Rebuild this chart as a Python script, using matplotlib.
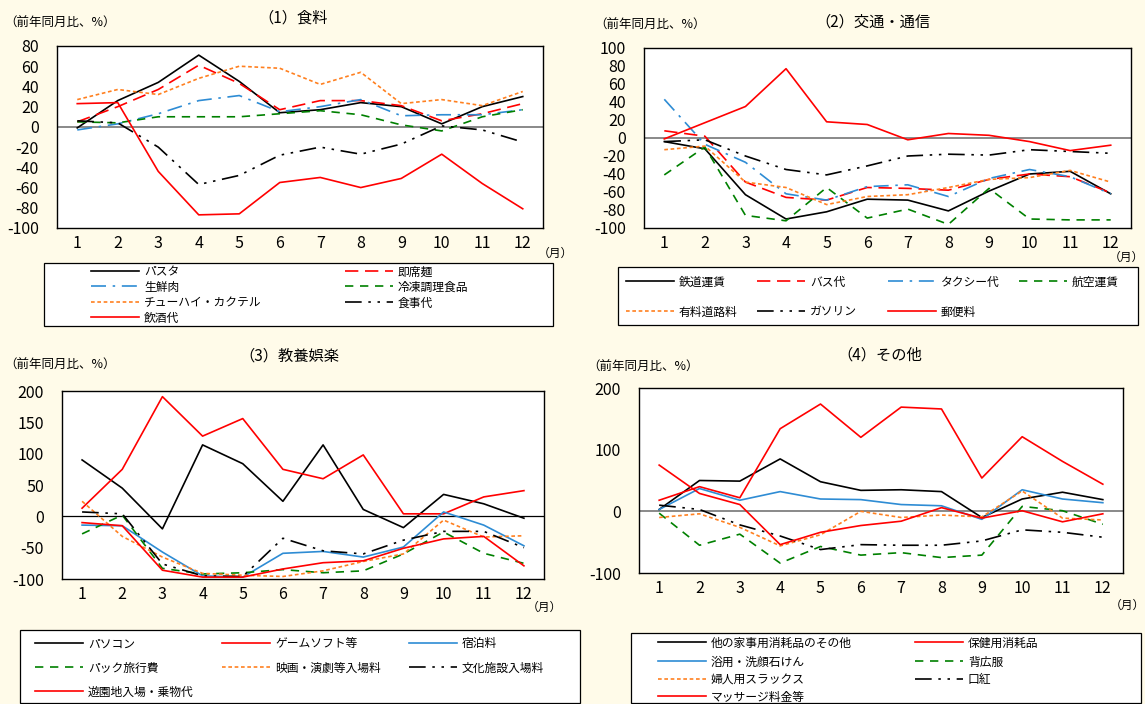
"""2020年 品目別支出の前年同月比 (4 パネル折れ線)"""

import matplotlib
matplotlib.use('Agg')

import matplotlib.pyplot as plt
from matplotlib.patches import Rectangle

plt.rcParams['font.family'] = ['Noto Sans CJK JP', 'DejaVu Sans']
plt.rcParams['axes.unicode_minus'] = False

W, H = 1145, 704
BG = '#FFFBE9'

MONTHS = list(range(1, 13))

# ── (1) 食料 ──────────────────────────────────────────────
food_labels = ['パスタ', '即席麺', '生鮮肉', '冷凍調理食品',
               'チューハイ・カクテル', '食事代', '飲酒代']
pasta = [-1, 26, 44, 71, 45, 14, 17, 24, 20, 3, 20, 30]
instant_noodle = [5, 20, 37, 61, 43, 17, 26, 26, 21, 6, 13, 23]
fresh_meat = [-3, 3, 13, 26, 31, 15, 20, 27, 11, 12, 12, 17]
frozen_food = [5, 4, 10, 10, 10, 13, 16, 12, 2, -4, 10, 17]
chuhai = [27, 37, 32, 48, 60, 58, 42, 54, 23, 27, 21, 35]
eating_out = [6, 4, -20, -57, -48, -28, -20, -27, -17, 1, -3, -15]
drinking = [23, 24, -44, -87, -86, -55, -50, -60, -51, -27, -56, -81]

# ── (2) 交通・通信 ────────────────────────────────────────
trans_labels = ['鉄道運賃', 'バス代', 'タクシー代', '航空運賃',
                '有料道路料', 'ガソリン', '郵便料']
rail = [-4, -12, -63, -90, -82, -68, -69, -81, -59, -40, -37, -62]
bus = [8, 2, -49, -66, -69, -55, -56, -58, -46, -40, -43, -61]
taxi = [43, -7, -27, -62, -69, -54, -52, -65, -45, -35, -43, -62]
airfare = [-41, -10, -86, -92, -55, -89, -79, -96, -56, -90, -91, -91]
toll_road = [-13, -9, -49, -55, -74, -65, -63, -55, -46, -44, -36, -49]
gasoline = [-4, -2, -20, -35, -41, -31, -20, -18, -19, -13, -15, -17]
postage = [-1, 17, 35, 77, 18, 15, -2, 5, 3, -4, -14, -8]

# ── (3) 教養娯楽 ──────────────────────────────────────────
culture_labels = ['パソコン', 'ゲームソフト等', '宿泊料', 'パック旅行費',
                  '映画・演劇等入場料', '文化施設入場料', '遊園地入場・乗物代']
pc = [90, 45, -20, 114, 84, 24, 114, 11, -18, 35, 20, -3]
game_soft = [13, 75, 191, 128, 156, 75, 60, 98, 4, 4, 31, 41]
hotel = [-14, -15, -57, -95, -97, -59, -56, -65, -49, 7, -14, -47]
package_tour = [-28, 2, -83, -92, -90, -85, -90, -87, -60, -25, -59, -75]
movie_theater = [24, -32, -65, -91, -94, -96, -87, -72, -60, -6, -33, -31]
culture_facility = [7, 4, -76, -95, -96, -35, -55, -60, -38, -24, -24, -50]
amusement_park = [-10, -15, -86, -97, -97, -84, -74, -71, -51, -36, -32, -79]

# ── (4) その他 ────────────────────────────────────────────
other_labels = ['他の家事用消耗品のその他', '保健用消耗品', '浴用・洗顔石けん', '背広服',
                '婦人用スラックス', '口紅', 'マッサージ料金等']
household_other = [3, 50, 49, 85, 48, 34, 35, 32, -10, 20, 31, 19]
health_supplies = [18, 40, 22, 134, 174, 120, 169, 166, 54, 121, 81, 44]
soap = [3, 37, 18, 32, 20, 19, 11, 9, -13, 35, 20, 14]
suit = [-3, -55, -37, -84, -57, -71, -67, -75, -71, 8, 1, -21]
slacks = [-10, -4, -26, -56, -38, 0, -10, -6, -9, 33, -11, -14]
lipstick = [10, 3, -22, -40, -62, -54, -55, -55, -48, -30, -34, -42]
massage = [75, 29, 11, -54, -34, -23, -16, 6, -11, 1, -17, -4]

# 線種
RED, BLUE, GREEN, ORANGE, BLACK = '#FF0000', '#2E8CD4', '#008000', '#FF8020', '#000000'
SOLID = '-'
DASH_LONG = (0, (8, 4))
DASH_DOT = (0, (9, 4, 1.5, 4))
DASH = (0, (5, 4))
DOT = (0, (2.2, 1.6))
DASH_DOT_DOT = (0, (10, 4, 1.5, 4, 1.5, 4))

FONT_TICK = 11.5
FONT_LEG = 8.5


def px_axes(fig, left, top, right, bottom):
    """ピクセル座標で Axes を作成"""
    return fig.add_axes([left / W, 1 - bottom / H, (right - left) / W, (bottom - top) / H])


def draw_panel(ax, series, styles, yticks, zero_color, zero_lw):
    lines = []
    for vals, (color, ls) in zip(series, styles):
        ln, = ax.plot(MONTHS, vals, color=color, ls=ls, lw=1.2, zorder=3)
        lines.append(ln)
    ax.axhline(0, color=zero_color, lw=zero_lw, zorder=2)
    ax.set_xlim(0.5, 12.5)
    ax.set_ylim(yticks[0], yticks[-1])
    ax.set_xticks(MONTHS)
    ax.set_yticks(yticks)
    ax.tick_params(length=0, labelsize=FONT_TICK)
    ax.tick_params(axis='x', pad=5)
    ax.tick_params(axis='y', pad=13)
    for s in ax.spines.values():
        s.set_color('black')
        s.set_linewidth(1.0)
    return lines


def legend_grid(fig, handles, labels, cols_px, rows_px, box):
    """Excel 風に行優先で凡例を並べる"""
    x0, y0, x1, y1 = box
    fig.add_artist(Rectangle((x0 / W, 1 - y1 / H), (x1 - x0) / W, (y1 - y0) / H,
                             transform=fig.transFigure, facecolor='white',
                             edgecolor='black', lw=0.9, zorder=1))
    fs_px = FONT_LEG * 100 / 72
    for i, (h, lab) in enumerate(zip(handles, labels)):
        r, c = divmod(i, len(cols_px))
        fig.legend([h], [lab], loc='center left',
                   bbox_to_anchor=(cols_px[c] / W, 1 - rows_px[r] / H),
                   frameon=False, borderpad=0, borderaxespad=0,
                   handlelength=48 / fs_px, handletextpad=0.42, fontsize=FONT_LEG)


def panel_texts(fig, title, title_xy, ylab_xy, month_xy, month_ha='center'):
    fig.text(title_xy[0] / W, 1 - title_xy[1] / H, title, ha='center', va='center', fontsize=11)
    fig.text(ylab_xy[0] / W, 1 - ylab_xy[1] / H, '（前年同月比、%）', ha='left', va='center', fontsize=9)
    fig.text(month_xy[0] / W, 1 - month_xy[1] / H, '（月）', ha=month_ha, va='center', fontsize=8.5)


fig = plt.figure(figsize=(W / 100, H / 100), dpi=100, facecolor=BG)

# (1) 食料
ax1 = px_axes(fig, 57, 46, 543, 228)
h1 = draw_panel(ax1,
                [pasta, instant_noodle, fresh_meat, frozen_food, chuhai, eating_out, drinking],
                [(BLACK, SOLID), (RED, DASH_LONG), (BLUE, DASH_DOT), (GREEN, DASH),
                 (ORANGE, DOT), (BLACK, DASH_DOT_DOT), (RED, SOLID)],
                list(range(-100, 81, 20)), '#808080', 1.3)
panel_texts(fig, '（1）食料', (293, 18), (4, 23), (555, 253))
legend_grid(fig, h1, food_labels, [91, 345], [272, 287, 303, 318], (44, 263, 553, 326))

# (2) 交通・通信
ax2 = px_axes(fig, 644, 48, 1131, 228)
h2 = draw_panel(ax2,
                [rail, bus, taxi, airfare, toll_road, gasoline, postage],
                [(BLACK, SOLID), (RED, DASH_LONG), (BLUE, DASH_DOT), (GREEN, DASH),
                 (ORANGE, DOT), (BLACK, DASH_DOT_DOT), (RED, SOLID)],
                list(range(-100, 101, 20)), '#808080', 1.3)
panel_texts(fig, '（2）交通・通信', (873, 22), (594, 25), (1144, 257), month_ha='right')
legend_grid(fig, h2, trans_labels, [626, 757, 888, 1019], [282, 312], (618, 267, 1138, 325))

# (3) 教養娯楽
ax3 = px_axes(fig, 62, 391, 544, 579)
h3 = draw_panel(ax3,
                [pc, game_soft, hotel, package_tour, movie_theater, culture_facility, amusement_park],
                [(BLACK, SOLID), (RED, SOLID), (BLUE, SOLID), (GREEN, DASH),
                 (ORANGE, DOT), (BLACK, DASH_DOT_DOT), (RED, SOLID)],
                list(range(-100, 201, 50)), 'black', 0.9)
panel_texts(fig, '（3）教養娯楽', (289, 356), (4, 365), (544, 607))
legend_grid(fig, h3, culture_labels, [35, 222, 409], [644, 668, 692], (20, 630, 580, 703))

# (4) その他
ax4 = px_axes(fig, 639, 388, 1123, 573)
h4 = draw_panel(ax4,
                [household_other, health_supplies, soap, suit, slacks, lipstick, massage],
                [(BLACK, SOLID), (RED, SOLID), (BLUE, SOLID), (GREEN, DASH),
                 (ORANGE, DOT), (BLACK, DASH_DOT_DOT), (RED, SOLID)],
                list(range(-100, 201, 100)), '#808080', 1.3)
panel_texts(fig, '（4）その他', (880, 355), (587, 367), (1127, 605))
legend_grid(fig, h4, other_labels, [658, 915], [643, 662, 680, 697], (631, 633, 1141, 703))

fig.savefig('out.png', dpi=100, facecolor=BG)
